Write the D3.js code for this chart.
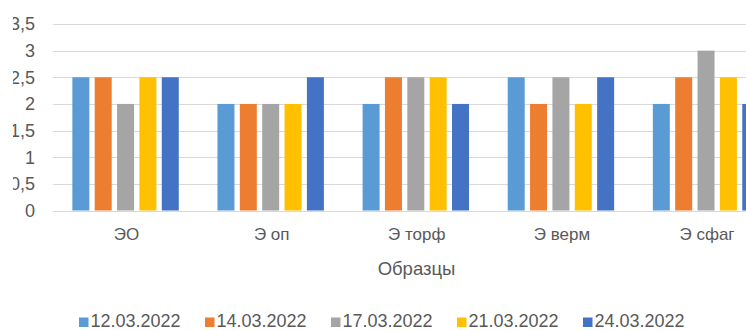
<!DOCTYPE html>
<html>
<head>
<meta charset="utf-8">
<script src="https://cdn.jsdelivr.net/npm/d3@7"></script>
<style>
  html, body { margin: 0; padding: 0; background: #fff; overflow: hidden; }
  svg { display: block; font-family: "Liberation Sans", Arial, sans-serif; }
</style>
</head>
<body>
<svg id="chart" width="746" height="331"></svg>
<script>
// Samples (x-axis categories)
const categories = ["ЭО", "Э оп", "Э торф", "Э верм", "Э сфаг"];
// Observation dates (series)
const seriesNames = ["12.03.2022", "14.03.2022", "17.03.2022", "21.03.2022", "24.03.2022"];
const seriesColors = ["#5B9BD5", "#ED7D31", "#A5A5A5", "#FFC000", "#4472C4"];
// Values per series, one per sample
const s1203 = [2.5, 2, 2, 2.5, 2];
const s1403 = [2.5, 2, 2.5, 2, 2.5];
const s1703 = [2, 2, 2.5, 2.5, 3];
const s2103 = [2.5, 2, 2.5, 2, 2.5];
const s2403 = [2.5, 2.5, 2, 2.5, 2];
const seriesValues = [s1203, s1403, s1703, s2103, s2403];
// Y-axis ticks and their labels (decimal comma)
const yTicks = [0, 0.5, 1, 1.5, 2, 2.5, 3, 3.5];
const yTickLabels = ["0", "0,5", "1", "1,5", "2", "2,5", "3", "3,5"];
const xTitle = "Образцы";

const svg = d3.select("#chart");
const textColor = "#595959";
const gridColor = "#D9D9D9";

const plotLeft = 53, plotRight = 778.6;
const y = d3.scaleLinear().domain([0, 3.5]).range([210.5, 24]);
const x0 = d3.scaleBand().domain(categories).range([plotLeft, plotRight]).padding(0);
const x1 = d3.scaleBand().domain(seriesNames)
  .range([19.35, x0.bandwidth() - 19.35]).paddingInner(0.24).paddingOuter(0);

// The chart area is framed a little to the right, trimming the tick labels' left edge
svg.append("defs").append("clipPath").attr("id", "frame")
  .append("rect").attr("x", 13).attr("y", 0).attr("width", 800).attr("height", 331);

// Horizontal gridlines
svg.append("g").selectAll("line").data(yTicks).join("line")
  .attr("x1", plotLeft).attr("x2", plotRight)
  .attr("y1", d => Math.round(y(d)) + 0.5).attr("y2", d => Math.round(y(d)) + 0.5)
  .attr("stroke", gridColor).attr("stroke-width", 1);

// Y tick labels
svg.append("g").attr("clip-path", "url(#frame)")
  .selectAll("text").data(yTicks).join("text")
  .attr("x", 35).attr("y", d => y(d))
  .attr("dy", "0.35em").attr("text-anchor", "end")
  .attr("font-size", 18).attr("fill", textColor)
  .text((d, i) => yTickLabels[i]);

// Grouped bars
const groups = svg.append("g").selectAll("g").data(categories).join("g")
  .attr("transform", c => `translate(${x0(c)},0)`);
groups.selectAll("rect")
  .data((c, ci) => seriesNames.map((s, si) => ({ s, si, v: seriesValues[si][ci] })))
  .join("rect")
  .attr("x", d => x1(d.s))
  .attr("width", x1.bandwidth())
  .attr("y", d => y(d.v))
  .attr("height", d => y(0) - y(d.v))
  .attr("fill", d => seriesColors[d.si]);

// Category labels
svg.append("g").selectAll("text").data(categories).join("text")
  .attr("x", c => x0(c) + x0.bandwidth() / 2 + 1).attr("y", 240)
  .attr("text-anchor", "middle").attr("font-size", 17).attr("fill", textColor)
  .text(c => c);

// X-axis title
svg.append("text")
  .attr("x", 416.5).attr("y", 275)
  .attr("text-anchor", "middle").attr("font-size", 18.5).attr("fill", textColor)
  .text(xTitle);

// Legend
const legend = svg.append("g").selectAll("g").data(seriesNames).join("g")
  .attr("transform", (d, i) => `translate(${79 + i * 126},0)`);
legend.append("rect")
  .attr("x", 0).attr("y", 317.5).attr("width", 9.5).attr("height", 9.5)
  .attr("fill", (d, i) => seriesColors[i]);
legend.append("text")
  .attr("x", 11.5).attr("y", 327)
  .attr("font-size", 18).attr("fill", textColor)
  .text(d => d);
</script>
</body>
</html>
